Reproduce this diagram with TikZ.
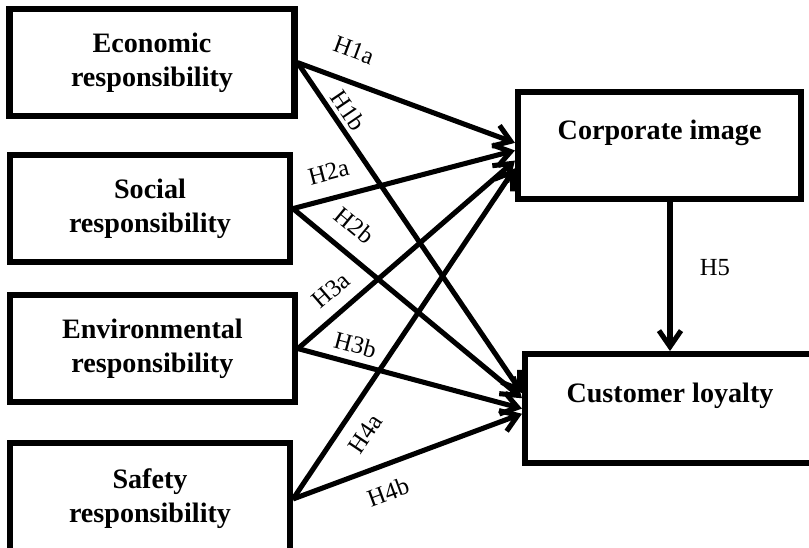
\documentclass[tikz,border=0pt]{standalone}
\usepackage{fontspec}
\setmainfont{Liberation Serif}
\usetikzlibrary{arrows.meta}

\begin{document}
\begin{tikzpicture}[
  factor/.style={rectangle, draw, line width=4.3pt, minimum width=7.125cm, minimum height=2.675cm, align=center, font=\bfseries\fontsize{20}{24.3}\selectfont},
  outcome/.style={factor, text height=5mm, text depth=8mm},
  arrow/.style={-{Straight Barb[length=4mm,width=5.5mm]}, line width=3.6pt},
  hyp/.style={inner sep=1pt, font=\fontsize{17.5}{20}\selectfont}
]
\useasboundingbox (0,0) rectangle (20.225,13.675);
% CSR dimensions on the left
\node[factor] (eco) at (3.8,12.11) {Economic\\responsibility};
\node[factor, minimum width=7cm] (soc) at (3.75,8.46) {Social\\responsibility};
\node[factor] (env) at (3.81,4.96) {Environmental\\responsibility};
\node[factor, minimum width=7cm, minimum height=2.8cm] (saf) at (3.75,1.2) {Safety\\responsibility};
% outcomes on the right
\node[outcome, minimum width=7.08cm] (ci) at (16.49,10.04) {Corporate image};
\node[outcome, minimum width=7.25cm, minimum height=2.725cm] (cl) at (16.75,3.46) {Customer loyalty};
% hypotheses
\draw[arrow] (eco.east) -- node[hyp, sloped, above=4.7mm, pos=0.21] {H1a} (ci.179);
\draw[arrow] (eco.east) -- node[hyp, sloped, above=0.6mm, pos=0.17] {H1b} (cl.174);
\draw[arrow] (soc.east) -- node[hyp, sloped, above=3.5mm, pos=0.19] {H2a} (ci.182);
\draw[arrow] (soc.east) -- node[hyp, sloped, above=3.5mm, pos=0.195] {H2b} (cl.176);
\draw[arrow] (env.east) -- node[hyp, sloped, above=2.5mm, pos=0.22] {H3a} (ci.186);
\draw[arrow] (env.east) -- node[hyp, sloped, above=1.5mm, pos=0.235] {H3b} (cl.180);
\draw[arrow] (saf.east) -- node[hyp, sloped, below=3mm, pos=0.237] {H4a} (ci.189);
\draw[arrow] (saf.east) -- node[hyp, sloped, below=3.5mm, pos=0.375] {H4b} (cl.182);
\draw[arrow] (ci.south -| cl.north) -- node[hyp, right=6.5mm, pos=0.44] {H5} (cl.north);
\end{tikzpicture}
\end{document}
